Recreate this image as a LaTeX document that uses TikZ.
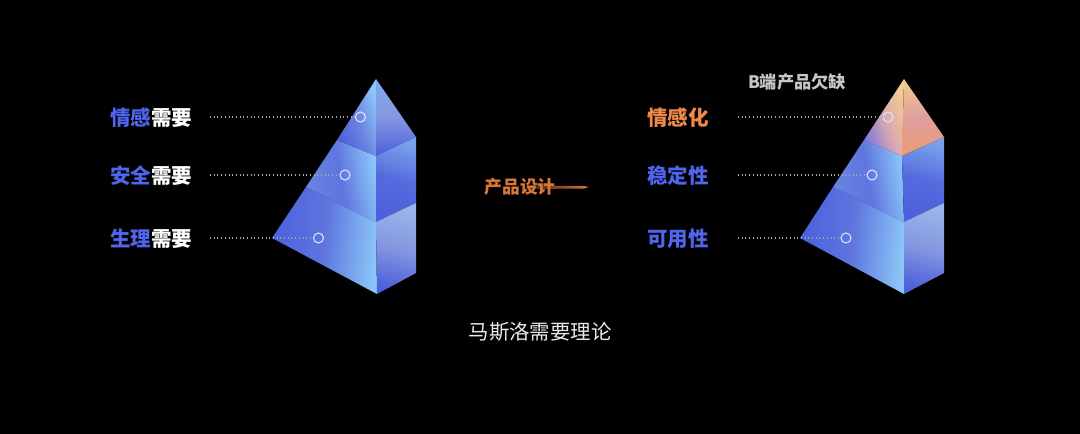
\documentclass[tikz,border=0pt]{standalone}
\usepackage{fontspec}
\newfontfamily\cjk{Noto Sans CJK SC}
\definecolor{textblue}{HTML}{5064EC}
\definecolor{textorange}{HTML}{F08A4B}
\definecolor{designorange}{HTML}{D9773A}
\definecolor{deepblue}{HTML}{4C60DC}
\definecolor{midblue}{HTML}{6A84E0}
\definecolor{paleblue}{HTML}{8CC6F8}
\definecolor{greyblue}{HTML}{98B6E8}
\definecolor{lilacblue}{HTML}{8496E0}
\definecolor{apexpeach}{HTML}{F5CC90}
\definecolor{facepink}{HTML}{DE9E9E}
\definecolor{faceorange}{HTML}{EE9C70}
\definecolor{facepurple}{HTML}{7E78DC}
\definecolor{facerose}{HTML}{D8A8B0}

\begin{document}
\begin{tikzpicture}[x=1pt,y=-1pt,
    need label/.style={font=\cjk\bfseries\fontsize{20.5}{20.5}\selectfont,inner sep=0pt,text=white},
    ring/.style={circle,draw=white!88!blue,line width=1.1pt,minimum size=10pt,inner sep=0pt},
    guide/.style={draw=white!65!black,line width=1.1pt,dash pattern=on 1pt off 2.7pt},
    front face/.style={left color=deepblue,right color=paleblue,middle color=deepblue!40!midblue,shading angle=85},
    middle face/.style={left color=midblue,right color=paleblue,middle color=deepblue!40!midblue,shading angle=100},
    top face/.style={left color=deepblue,right color=paleblue,middle color=midblue,shading angle=110},
    side top/.style={top color=paleblue!60!midblue,bottom color=deepblue,middle color=lilacblue},
    side middle/.style={top color=paleblue!45!midblue,bottom color=deepblue,middle color=deepblue!70!midblue,shading angle=-15},
    side bottom/.style={top color=greyblue,bottom color=deepblue,middle color=lilacblue,shading angle=-12}]

    \fill[black] (0,0) rectangle (1080,434);
    \useasboundingbox (0,0) rectangle (1080,434);

    % left pyramid
    \shade[front face] (272,238) -- (306,187) -- (376,222) -- (377,294) -- cycle;
    \shade[middle face] (306,187) -- (337,140) -- (376,156) -- (376,222) -- cycle;
    \shade[top face] (337,140) -- (376,79) -- (376,156) -- cycle;
    \shade[side top] (376,79) -- (416,137) -- (376,156) -- cycle;
    \shade[side middle] (376,156) -- (416,137) -- (416,203) -- (376,222) -- cycle;
    \shade[side bottom] (376,222) -- (416,203) -- (416,273) -- (377,294) -- cycle;

    % right pyramid
    \shade[front face] (800,238) -- (833,187) -- (904,222) -- (904,294) -- cycle;
    \shade[middle face] (833,187) -- (864,140) -- (902,156) -- (904,222) -- cycle;
    \shade[left color=facepurple,right color=apexpeach,middle color=facerose,shading angle=110] (864,140) -- (904,79) -- (902,156) -- cycle;
    \shade[top color=apexpeach,bottom color=faceorange,middle color=facepink] (904,79) -- (944,137) -- (902,156) -- cycle;
    \shade[side middle] (902,156) -- (944,137) -- (944,203) -- (904,222) -- cycle;
    \shade[side bottom] (904,222) -- (944,203) -- (944,273) -- (904,294) -- cycle;

    % line after the design label
    \shade[left color=designorange!30!black,right color=designorange] (530,185.5) -- (584,186) -- (589,187) -- (584,188.5) -- (530,189) -- cycle;

    \node[need label] (emotion) at (151,118) {\textcolor{textblue}{情感}需要};
    \node[need label] (safety) at (151,176) {\textcolor{textblue}{安全}需要};
    \node[need label] (body) at (151,239) {\textcolor{textblue}{生理}需要};
    \node[need label,text=textorange] (feeling) at (678,118) {情感化};
    \node[need label,text=textblue] (stable) at (678,176) {稳定性};
    \node[need label,text=textblue] (usable) at (678,239) {可用性};
    \node[font=\cjk\bfseries\fontsize{17.7}{17.7}\selectfont,inner sep=0pt,text=designorange] (design) at (520,187) {产品设计};
    \node[font=\cjk\bfseries\fontsize{17.2}{17.2}\selectfont,inner sep=0pt,text=white!78!black] (lack) at (797,82) {B端产品欠缺};
    \node[font=\cjk\fontsize{20.4}{20.4}\selectfont,inner sep=0pt,text=white!92!black] (title) at (540,332) {马斯洛需要理论};

    \node[ring] (r1) at (360.5,117) {};
    \node[ring] (r2) at (345,175) {};
    \node[ring] (r3) at (318.5,238) {};
    \node[ring] (r4) at (888,117) {};
    \node[ring] (r5) at (872,175) {};
    \node[ring] (r6) at (846,238) {};

    \coordinate (g1) at (210,117);
    \coordinate (g2) at (210,175);
    \coordinate (g3) at (210,238);
    \coordinate (g4) at (738,117);
    \coordinate (g5) at (738,175);
    \coordinate (g6) at (738,238);

    \path[guide]
        (g1) edge (r1)
        (g2) edge (r2)
        (g3) edge (r3)
        (g4) edge (r4)
        (g5) edge (r5)
        (g6) edge (r6)
        ;
\end{tikzpicture}
\end{document}
